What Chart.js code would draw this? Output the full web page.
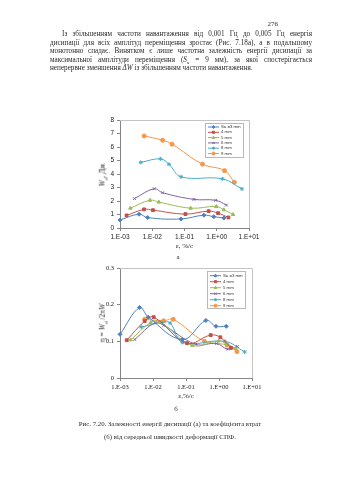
<!DOCTYPE html>
<html lang="uk">
<head>
<meta charset="UTF-8">
<title>Рис. 7.20</title>
<script src="https://cdn.jsdelivr.net/npm/chart.js"></script>
<style>
  body {
    margin: 0;
    width: 339px;
    height: 480px;
    position: relative;
    overflow: hidden;
    background: #fff;
    color: #2a2a2a;
    font-family: "Liberation Serif", "DejaVu Serif", serif;
  }
  .txt { filter: grayscale(1); will-change: transform; }
  .pagenum { position: absolute; left: 258px; top: 20px; width: 20px; text-align: right; font-size: 7px; }
  .ln {
    position: absolute;
    left: 50px;
    width: 262px;
    font-size: 7.2px;
    line-height: 8px;
    text-align: justify;
    text-align-last: justify;
  }
  .ln.first { left: 62px; width: 250px; }
  .ln.last { text-align-last: left; }
  .chartbox { position: absolute; left: 80px; }
  .ytitle {
    position: absolute;
    transform: translate(-50%, -50%) rotate(-90deg);
    white-space: nowrap;
    font-size: 7.5px;
  }
  .ytitle sub { font-size: 5px; }
  .panel { position: absolute; width: 20px; margin-left: -10px; text-align: center; font-size: 7px; }
  .caption { position: absolute; left: 20px; width: 300px; text-align: center; font-size: 6.8px; line-height: 13px; }
</style>
</head>
<body>
  <div class="pagenum txt">276</div>
  <div class="ln first txt" style="top:30px">Із збільшенням частоти навантаження від 0,001 Гц до 0,005 Гц енергія</div>
  <div class="ln txt" style="top:38.5px">дисипації для всіх амплітуд переміщення зростає (Рис. 7.18а), а в подальшому</div>
  <div class="ln txt" style="top:47px">монотонно спадає. Винятком є лише частотна залежність енергії дисипації за</div>
  <div class="ln txt" style="top:55.5px">максимальної амплітуди переміщення (<i>S</i><sub style="font-size:5px">а</sub> = 9 мм), за якої спостерігається</div>
  <div class="ln last txt" style="top:64px">неперервне зменшення <i>ΔW</i> із збільшенням частоти навантаження.</div>

  <canvas id="energyChart" class="chartbox" style="top:110px" width="200" height="145"></canvas>
  <div class="ytitle txt" style="left:103px; top:175px"><i>W</i><sub>d</sub>, Дж</div>
  <div class="panel txt" style="left:178px; top:253px">а</div>

  <canvas id="lossChart" class="chartbox" style="top:258px" width="200" height="145"></canvas>
  <div class="ytitle txt" style="left:103px; top:323px">η = <i>W</i><sub>d</sub> /2π<i>W</i></div>
  <div class="panel txt" style="left:176px; top:405px">б</div>

  <div class="caption txt" style="top:417px">Рис. 7.20. Залежності енергії дисипації (а) та коефіцієнта втрат<br>(б) від середньої швидкості деформації СПФ.</div>

<script>
  // axis ticks
  const xTickValues = [0.001, 0.01, 0.1, 1, 10];
  const xTickLabels = ['1.E-03', '1.E-02', '1.E-01', '1.E+00', '1.E+01'];

  const seriesNames = ['Sa =3 mm', '4 mm', '5 mm', '6 mm', '8 mm', '9 mm'];

  // mean strain rate, %/s, for each displacement amplitude
  const rate3 = [0.001, 0.0039, 0.0072, 0.078, 0.4, 0.81, 1.66];
  const rate4 = [0.0016, 0.0056, 0.0105, 0.107, 0.56, 1.1, 2.3];
  const rate5 = [0.0021, 0.0085, 0.016, 0.155, 0.97, 1.66, 3.2];
  const rate6 = [0.0028, 0.0115, 0.021, 0.195, 0.93, 2.0];
  const rate6b = [0.0028, 0.0115, 0.021, 0.195, 0.85, 1.8, 3.6];
  const rate8 = [0.0044, 0.018, 0.033, 0.078, 1.5, 6.0];
  const rate9 = [0.0056, 0.021, 0.041, 0.36, 1.74, 3.5];

  // (a) dissipated energy Wd, J
  const energy3 = [0.6, 1.02, 0.77, 0.67, 0.95, 0.84, 0.74];
  const energy4 = [0.93, 1.38, 1.32, 1.03, 1.25, 1.1, 0.78];
  const energy5 = [1.47, 2.06, 1.92, 1.47, 1.59, 1.35, 1.0];
  const energy6 = [2.18, 2.91, 2.61, 2.12, 2.05, 1.7];
  const energy8 = [4.86, 5.12, 4.72, 3.79, 3.64, 2.9];
  const energy9 = [6.82, 6.5, 6.21, 4.73, 4.25, 3.39];

  // (b) loss factor
  const eta3 = [0.119, 0.192, 0.166, 0.105, 0.157, 0.141, 0.141];
  const eta4 = [0.103, 0.155, 0.166, 0.095, 0.117, 0.111, 0.082];
  const eta5 = [0.104, 0.151, 0.153, 0.089, 0.101, 0.094, 0.08];
  const eta6 = [0.105, 0.151, 0.144, 0.092, 0.094, 0.079, 0.086];
  const eta8 = [0.139, 0.151, 0.15, 0.097, 0.1, 0.071];
  const eta9 = [0.16, 0.156, 0.16, 0.1, 0.09, 0.072];

  const colors = ['#4F81BD', '#C0504D', '#9BBB59', '#8064A2', '#4BACC6', '#F79646'];
  const markers = ['rectRot', 'rect', 'triangle', 'crossRot', 'star', 'circle'];

  function toPoints(xs, ys) {
    return xs.map((x, i) => ({ x: x, y: ys[i] }));
  }

  function makeDatasets(pairs) {
    return pairs.map((p, i) => ({
      label: seriesNames[i],
      data: toPoints(p[0], p[1]),
      borderColor: colors[i],
      backgroundColor: colors[i],
      borderWidth: 1,
      pointStyle: markers[i],
      pointRadius: 2,
      pointBorderWidth: 1,
      tension: 0.4,
      clip: false
    }));
  }

  // light border on the top and right of the plot area
  const plotFrame = {
    id: 'plotFrame',
    beforeDatasetsDraw(chart) {
      const a = chart.chartArea, ctx = chart.ctx;
      ctx.save();
      ctx.strokeStyle = '#c4c4c4';
      ctx.lineWidth = 1;
      ctx.beginPath();
      ctx.moveTo(a.left, Math.round(a.top) + 0.5);
      ctx.lineTo(Math.round(a.right) + 0.5, Math.round(a.top) + 0.5);
      ctx.lineTo(Math.round(a.right) + 0.5, a.bottom);
      ctx.stroke();
      ctx.restore();
    }
  };

  // Excel-like legend box sitting inside the plot
  const boxLegend = {
    id: 'boxLegend',
    afterDraw(chart, args, opts) {
      const ctx = chart.ctx;
      ctx.save();
      ctx.fillStyle = '#fff';
      ctx.fillRect(opts.x, opts.y, opts.w, opts.h);
      ctx.strokeStyle = '#b8b8b8';
      ctx.lineWidth = 1;
      ctx.strokeRect(opts.x + 0.5, opts.y + 0.5, opts.w, opts.h);
      ctx.font = opts.font;
      ctx.textBaseline = 'middle';
      chart.data.datasets.forEach((ds, i) => {
        const cy = opts.y + opts.pad + i * opts.row;
        ctx.strokeStyle = ds.borderColor;
        ctx.fillStyle = ds.backgroundColor;
        ctx.beginPath();
        ctx.moveTo(opts.x + 3, cy);
        ctx.lineTo(opts.x + 14, cy);
        ctx.stroke();
        Chart.helpers.drawPoint(ctx, { pointStyle: ds.pointStyle, radius: 1.5, rotation: 0, borderWidth: 1 }, opts.x + 8.5, cy);
        ctx.fillStyle = '#333';
        ctx.fillText(ds.label, opts.x + 16, cy);
      });
      ctx.restore();
    }
  };

  function makeChart(id, datasets, yScale, xTitle, family, padRight, padBottom, legendBox) {
    return new Chart(document.getElementById(id), {
      type: 'line',
      data: { datasets: datasets },
      plugins: [plotFrame, boxLegend],
      options: {
        responsive: false,
        animation: false,
        devicePixelRatio: 1,
        layout: { padding: { left: 0, top: 10, right: padRight, bottom: padBottom } },
        plugins: {
          legend: { display: false },
          tooltip: { enabled: false },
          boxLegend: legendBox
        },
        scales: {
          x: {
            type: 'logarithmic',
            min: 0.001,
            max: 10,
            afterBuildTicks: s => { s.ticks = xTickValues.map(v => ({ value: v })); },
            afterFit: s => { s.height = 22; },
            ticks: {
              autoSkip: false,
              maxRotation: 0,
              padding: 2,
              color: '#222',
              font: { family: family, size: 6.5 },
              callback: v => xTickLabels[xTickValues.indexOf(v)]
            },
            grid: { drawOnChartArea: false, drawTicks: true, tickLength: 3, color: '#868686' },
            border: { color: '#868686' },
            title: {
              display: true,
              text: xTitle,
              color: '#222',
              font: { family: 'Liberation Serif', size: 7 },
              padding: { top: 1, bottom: 0 }
            }
          },
          y: Object.assign({
            afterFit: s => { s.width = 40; },
            grid: { drawOnChartArea: false, drawTicks: true, tickLength: 3, color: '#868686' },
            border: { color: '#868686' }
          }, yScale)
        }
      }
    });
  }

  makeChart('energyChart',
    makeDatasets([[rate3, energy3], [rate4, energy4], [rate5, energy5], [rate6, energy6], [rate8, energy8], [rate9, energy9]]),
    {
      min: 0, max: 8,
      ticks: { stepSize: 1, padding: 3, color: '#222', font: { family: 'Liberation Sans', size: 6.5 } }
    },
    'ε, %/с', 'Liberation Sans', 31, 5,
    { x: 125, y: 13, w: 38, h: 34, pad: 4, row: 5.3, font: '4.3px "Liberation Sans"' });

  makeChart('lossChart',
    makeDatasets([[rate3, eta3], [rate4, eta4], [rate5, eta5], [rate6b, eta6], [rate8, eta8], [rate9, eta9]]),
    {
      min: 0, max: 0.3,
      ticks: { stepSize: 0.1, padding: 3, color: '#222', font: { family: 'Liberation Serif', size: 6.5 },
               callback: v => String(+v.toFixed(1)) }
    },
    'ε,%/с', 'Liberation Serif', 28, 3,
    { x: 127, y: 13, w: 38, h: 37, pad: 4.7, row: 6, font: '4.3px "Liberation Sans"' });
</script>
</body>
</html>
